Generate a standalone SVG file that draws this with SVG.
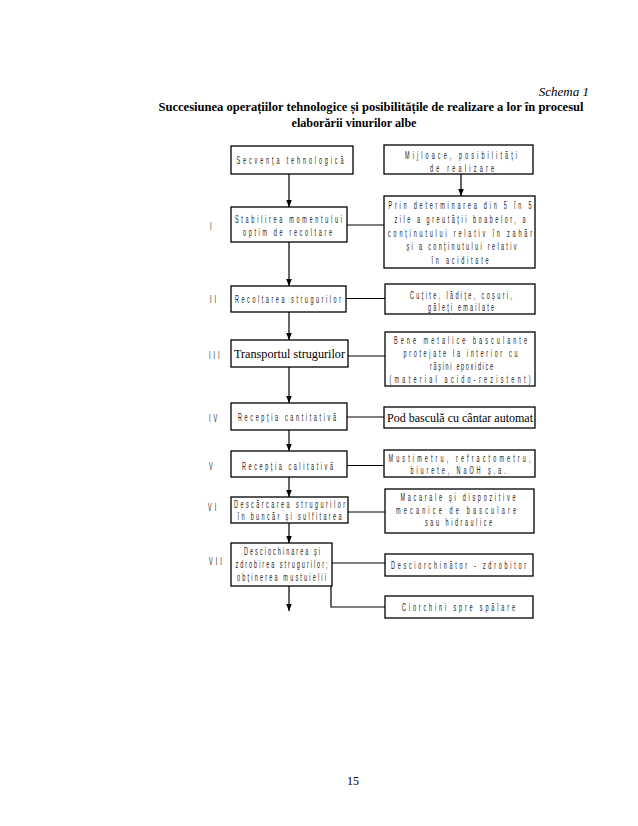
<svg xmlns="http://www.w3.org/2000/svg" width="638" height="826" viewBox="0 0 638 826">
<defs>
<marker id="ah" viewBox="0 0 10 10" refX="10" refY="5" markerWidth="7" markerHeight="7" markerUnits="userSpaceOnUse" orient="auto"><path d="M0,1 L10,5 L0,9 z" fill="#000"/></marker>
<style>
.box{fill:#fff;stroke:#000;stroke-width:1.3}
.c{font-family:"Liberation Sans",Arial,sans-serif;font-size:11px;fill:#222;text-anchor:middle}
.lab{font-family:"Liberation Sans",Arial,sans-serif;font-size:11px;fill:#222;letter-spacing:6px}
.s{font-family:"Liberation Serif","Times New Roman",serif;font-size:12.3px;fill:#000;text-anchor:middle}
.ln{stroke:#000;stroke-width:1.2;fill:none}
.ar{stroke:#000;stroke-width:1.2;fill:none;marker-end:url(#ah)}
</style>
</defs>
<rect width="638" height="826" fill="#fff"/>
<g id="title">
<text x="589" y="96" font-family="Liberation Serif,serif" font-style="italic" font-size="13" text-anchor="end">Schema 1</text>
<text x="371" y="111" font-family="Liberation Serif,serif" font-weight="bold" font-size="13" text-anchor="middle" textLength="425" lengthAdjust="spacingAndGlyphs">Succesiunea operațiilor tehnologice și posibilitățile de realizare a lor în procesul</text>
<text x="354" y="127" font-family="Liberation Serif,serif" font-weight="bold" font-size="13" text-anchor="middle" textLength="125" lengthAdjust="spacingAndGlyphs">elaborării vinurilor albe</text>
</g>
<g id="connectors">
<line class="ar" x1="289" y1="174" x2="289" y2="207"/>
<line class="ar" x1="461" y1="174" x2="461" y2="196"/>
<line class="ln" x1="347" y1="225" x2="384" y2="225"/>
<line class="ar" x1="289" y1="242" x2="289" y2="286"/>
<line class="ln" x1="346" y1="298.5" x2="385" y2="298.5"/>
<line class="ar" x1="289" y1="312" x2="289" y2="340"/>
<line class="ln" x1="348" y1="356" x2="385" y2="356"/>
<line class="ar" x1="289" y1="367" x2="289" y2="403"/>
<line class="ln" x1="347" y1="417" x2="384" y2="417"/>
<line class="ar" x1="289" y1="430" x2="289" y2="451"/>
<line class="ln" x1="347" y1="465.5" x2="384" y2="465.5"/>
<line class="ar" x1="289" y1="477" x2="289" y2="497"/>
<line class="ln" x1="348" y1="512" x2="385" y2="512"/>
<line class="ar" x1="289" y1="523" x2="289" y2="543"/>
<line class="ln" x1="332" y1="563" x2="385" y2="563"/>
<polyline class="ln" points="331,586 331,607 385,607"/>
<line class="ar" x1="289" y1="586" x2="289" y2="611"/>
</g>
<g id="labels">
<text class="lab" transform="translate(210,230) scale(0.5,1)">I</text>
<text class="lab" transform="translate(210,302.5) scale(0.5,1)">II</text>
<text class="lab" transform="translate(209,358.5) scale(0.5,1)">III</text>
<text class="lab" transform="translate(209,421.5) scale(0.5,1)">IV</text>
<text class="lab" transform="translate(209,469.5) scale(0.5,1)">V</text>
<text class="lab" transform="translate(208,511) scale(0.5,1)">VI</text>
<text class="lab" transform="translate(209,564.5) scale(0.5,1)">VII</text>
</g>
<g id="n0"><rect class="box" x="231" y="146" width="122" height="28"/>
<text class="c" transform="translate(290,164) scale(0.5,1)" textLength="214" lengthAdjust="spacing">Secvența tehnologică</text></g>
<g id="n1"><rect class="box" x="231" y="207" width="116" height="35"/>
<text class="c" transform="translate(288.5,223) scale(0.5,1)" textLength="214" lengthAdjust="spacing">Stabilirea momentului</text>
<text class="c" transform="translate(287.5,235.5) scale(0.5,1)" textLength="178" lengthAdjust="spacing">optim de recoltare</text></g>
<g id="n2"><rect class="box" x="231" y="286" width="115" height="26"/>
<text class="c" transform="translate(288,303) scale(0.5,1)" textLength="212" lengthAdjust="spacing">Recoltarea strugurilor</text></g>
<g id="n3"><rect class="box" x="231" y="340" width="117" height="27"/>
<text class="s" x="289.5" y="358" textLength="111" lengthAdjust="spacingAndGlyphs">Transportul strugurilor</text></g>
<g id="n4"><rect class="box" x="231" y="403" width="116" height="27"/>
<text class="c" transform="translate(287,421) scale(0.5,1)" textLength="196" lengthAdjust="spacing">Recepția cantitativă</text></g>
<g id="n5"><rect class="box" x="231" y="451" width="116" height="26"/>
<text class="c" transform="translate(287.5,469.5) scale(0.5,1)" textLength="182" lengthAdjust="spacing">Recepția calitativă</text></g>
<g id="n6"><rect class="box" x="231" y="497" width="117" height="26"/>
<text class="c" transform="translate(289.5,508) scale(0.5,1)" textLength="222" lengthAdjust="spacing">Descărcarea strugurilor</text>
<text class="c" transform="translate(289.5,520) scale(0.5,1)" textLength="208" lengthAdjust="spacing">în buncăr și sulfitarea</text></g>
<g id="n7"><rect class="box" x="231" y="543" width="101" height="43"/>
<text class="c" transform="translate(282,555) scale(0.5,1)" textLength="152" lengthAdjust="spacing">Desciochinarea și</text>
<text class="c" transform="translate(281.5,568) scale(0.5,1)" textLength="184" lengthAdjust="spacing">zdrobirea strugurilor;</text>
<text class="c" transform="translate(281.5,581) scale(0.5,1)" textLength="178" lengthAdjust="spacing">obținerea mustuielii</text></g>
<g id="r0"><rect class="box" x="384" y="145" width="149" height="29"/>
<text class="c" transform="translate(461,159) scale(0.5,1)" textLength="224" lengthAdjust="spacing">Mijloace, posibilități</text>
<text class="c" transform="translate(462,171.5) scale(0.5,1)" textLength="128" lengthAdjust="spacing">de realizare</text></g>
<g id="r1"><rect class="box" x="384" y="196" width="151" height="72"/>
<text class="c" transform="translate(460,209) scale(0.5,1)" textLength="286" lengthAdjust="spacing">Prin determinarea din 5 în 5</text>
<text class="c" transform="translate(460,223) scale(0.5,1)" textLength="262" lengthAdjust="spacing">zile a greutății boabelor, a</text>
<text class="c" transform="translate(460,236.5) scale(0.5,1)" textLength="288" lengthAdjust="spacing">conținutului relativ în zahăr</text>
<text class="c" transform="translate(461.5,250) scale(0.5,1)" textLength="220" lengthAdjust="spacing">și a conținutului relativ</text>
<text class="c" transform="translate(460,263.5) scale(0.5,1)" textLength="114" lengthAdjust="spacing">în aciditate</text></g>
<g id="r2"><rect class="box" x="385" y="284" width="150" height="30"/>
<text class="c" transform="translate(461,298.5) scale(0.5,1)" textLength="204" lengthAdjust="spacing">Cuțite, lădițe, coșuri,</text>
<text class="c" transform="translate(461,311) scale(0.5,1)" textLength="132" lengthAdjust="spacing">gălеți emailate</text></g>
<g id="r3"><rect class="box" x="385" y="332" width="150" height="54"/>
<text class="c" transform="translate(460.5,344) scale(0.5,1)" textLength="266" lengthAdjust="spacing">Bene metalice basculante</text>
<text class="c" transform="translate(460.5,357) scale(0.5,1)" textLength="228" lengthAdjust="spacing">protejate la interior cu</text>
<text class="c" transform="translate(461.5,370) scale(0.5,1)" textLength="126" lengthAdjust="spacing">rășini epoxidice</text>
<text class="c" transform="translate(460,383) scale(0.5,1)" textLength="282" lengthAdjust="spacing">(material acido-rezistent)</text></g>
<g id="r4"><rect class="box" x="384" y="407" width="151" height="21"/>
<text class="s" x="460" y="422" textLength="146" lengthAdjust="spacingAndGlyphs">Pod basculă cu cântar automat</text></g>
<g id="r5"><rect class="box" x="384" y="450" width="151" height="27"/>
<text class="c" transform="translate(459.5,461.5) scale(0.5,1)" textLength="284" lengthAdjust="spacing">Mustimetru, refractometru,</text>
<text class="c" transform="translate(458,473.5) scale(0.5,1)" textLength="190" lengthAdjust="spacing">biurete, NaOH ș.a.</text></g>
<g id="r6"><rect class="box" x="385" y="489" width="149" height="44"/>
<text class="c" transform="translate(458,501) scale(0.5,1)" textLength="230" lengthAdjust="spacing">Macarale și dispozitive</text>
<text class="c" transform="translate(456,513.5) scale(0.5,1)" textLength="240" lengthAdjust="spacing">mecanice de basculare</text>
<text class="c" transform="translate(458.5,526) scale(0.5,1)" textLength="134" lengthAdjust="spacing">sau hidraulice</text></g>
<g id="r7"><rect class="box" x="385" y="554" width="148" height="22"/>
<text class="c" transform="translate(458.5,569) scale(0.5,1)" textLength="270" lengthAdjust="spacing">Desciorchinător - zdrobitor</text></g>
<g id="r8"><rect class="box" x="385" y="596" width="148" height="22"/>
<text class="c" transform="translate(458.5,611) scale(0.5,1)" textLength="226" lengthAdjust="spacing">Ciorchini spre spălare</text></g>
<text x="353" y="785" font-family="Liberation Serif,serif" font-size="12" text-anchor="middle">15</text>
</svg>
